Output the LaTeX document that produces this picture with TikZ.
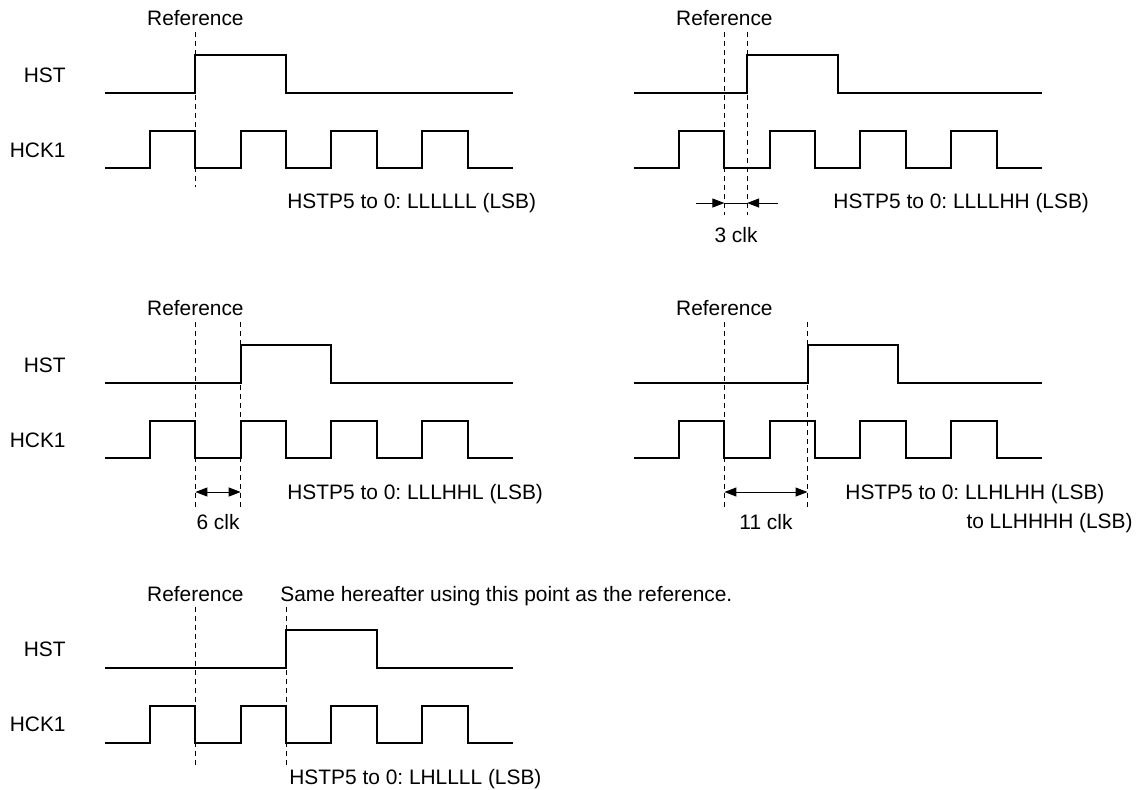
\documentclass[tikz,border=0pt]{standalone}
\usepackage{fontspec}
\setmainfont{Liberation Sans}
\usetikzlibrary{arrows.meta}
\frenchspacing

\begin{document}
\begin{tikzpicture}[
  x=0.5pt,y=-0.5pt,
  font=\fontsize{10.45}{12}\selectfont,
  every node/.style={inner sep=0pt},
  sig/.style={line width=1pt},
  refline/.style={line width=0.5pt,dash pattern=on 2.5pt off 2pt},
  dim/.style={line width=0.5pt,-{Triangle[length=6pt,width=4.5pt]}},
  dimboth/.style={line width=0.5pt,{Triangle[length=6pt,width=4.5pt]}-{Triangle[length=6pt,width=4.5pt]}},
  signame/.style={anchor=east},
  reftext/.style={anchor=base},
  codetext/.style={anchor=base west},
  pics/hck/.style={code={
    \draw [sig] (105,168) -| (150,131) -| (195.4,168) -| (240.7,131) -| (286.1,168)
      -| (331.4,131) -| (376.8,168) -| (422.1,131) -| (467.5,168) -- (513,168);
  }},
  pics/hst/.style={code={
    \draw [sig] (105,93) -| (#1,55) -| ({#1+90.7},93) -- (513,93);
  }},
]
\useasboundingbox (0,0) rectangle (1140,789);

% reference at the falling edge
\begin{scope}
  \pic {hst=195.4};
  \pic {hck};
  \node (hst1) [signame] at (66,75) {HST};
  \node (hck1) [signame] at (66,150) {HCK1};
  \node (ref1) [reftext] at (195.4,25.5) {Reference};
  \draw [refline] (195.4,32) -- (195.4,187);
  \node (code1) [codetext] at (287,208.5) {HSTP5 to 0: LLLLLL (LSB)};
\end{scope}

% 3 clk
\begin{scope}[shift={(529,0)}]
  \pic {hst=218.1};
  \pic {hck};
  \node (ref2) [reftext] at (195.4,25.5) {Reference};
  \draw [refline] (195.4,32) -- (195.4,215);
  \draw [refline] (218.1,32) -- (218.1,215);
  \coordinate (a2) at (195.4,203);
  \coordinate (b2) at (218.1,203);
  \coordinate (a2out) at (167,203);
  \coordinate (b2out) at (249,203);
  \draw [dim] (a2out) -- (a2);
  \draw [dim] (b2out) -- (b2);
  \draw [line width=0.5pt] (a2) -- (b2);
  \node (clk2) [reftext] at (207,242.5) {3 clk};
  \node (code2) [codetext] at (304,208.5) {HSTP5 to 0: LLLLHH (LSB)};
\end{scope}

% 6 clk
\begin{scope}[shift={(0,290)}]
  \pic {hst=240.7};
  \pic {hck};
  \node (hst3) [signame] at (66,75) {HST};
  \node (hck3) [signame] at (66,150) {HCK1};
  \node (ref3) [reftext] at (195.4,25.5) {Reference};
  \draw [refline] (195.4,32) -- (195.4,218);
  \draw [refline] (240.7,32) -- (240.7,218);
  \coordinate (a3) at (195.4,202);
  \coordinate (b3) at (240.7,202);
  \draw [dimboth] (a3) -- (b3);
  \node (clk3) [reftext] at (218,239.5) {6 clk};
  \node (code3) [codetext] at (287,209.5) {HSTP5 to 0: LLLHHL (LSB)};
\end{scope}

% 11 clk
\begin{scope}[shift={(529,290)}]
  \pic {hst=278.5};
  \pic {hck};
  \node (ref4) [reftext] at (195.4,25.5) {Reference};
  \draw [refline] (195.4,32) -- (195.4,218);
  \draw [refline] (278.5,32) -- (278.5,218);
  \coordinate (a4) at (195.4,202);
  \coordinate (b4) at (278.5,202);
  \draw [dimboth] (a4) -- (b4);
  \node (clk4) [reftext] at (237,239.5) {11 clk};
  \node (code4) [codetext] at (316,209.5) {HSTP5 to 0: LLHLHH (LSB)};
  \node (code4b) [anchor=base east] at (604,238.5) {to LLHHHH (LSB)};
\end{scope}

% next reference
\begin{scope}[shift={(0,574.5)}]
  \pic {hst=286.1};
  \pic {hck};
  \node (hst5) [signame] at (66,75) {HST};
  \node (hck5) [signame] at (66,150) {HCK1};
  \node (ref5) [reftext] at (195.4,27) {Reference};
  \node (same5) [codetext] at (280,27) {Same hereafter using this point as the reference.};
  \draw [refline] (195.4,32) -- (195.4,192);
  \draw [refline] (286.1,32) -- (286.1,192);
  \node (code5) [codetext] at (289,210) {HSTP5 to 0: LHLLLL (LSB)};
\end{scope}
\end{tikzpicture}
\end{document}
